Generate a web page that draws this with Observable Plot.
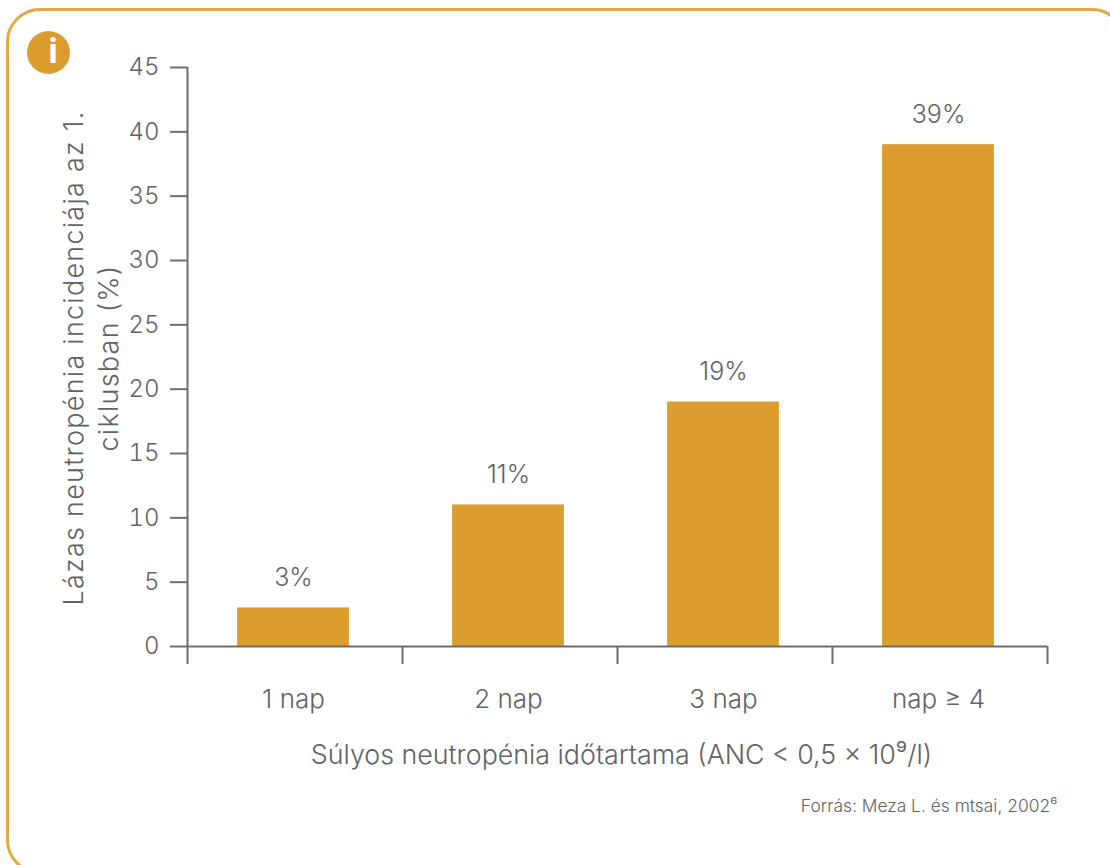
<!DOCTYPE html>
<html lang="hu">
<head>
<meta charset="utf-8">
<title>Lázas neutropénia incidenciája</title>
<script src="https://cdn.jsdelivr.net/npm/d3@7"></script>
<script src="https://cdn.jsdelivr.net/npm/@observablehq/plot@0.6"></script>
<style>
  html, body { margin: 0; padding: 0; background: #fff; overflow: hidden; }
  #card { position: relative; width: 1110px; height: 865px; overflow: hidden; }
  #frame {
    position: absolute; left: 6px; top: 8px; width: 1120px; height: 866px;
    box-sizing: border-box; border: 3px solid #e2a945; border-radius: 34px;
  }
  #chart { position: absolute; left: 0; top: 0; }
  #chart svg { display: block; }
  .wide-title { letter-spacing: 1.25px; }
</style>
</head>
<body>
<div id="card"><div id="frame"></div><div id="chart"></div></div>
<script>
// Incidence of febrile neutropenia in cycle 1 by duration of severe neutropenia
const durations = ["1 nap", "2 nap", "3 nap", "nap ≥ 4"];
const incidence = [3, 11, 19, 39];
const percentLabels = ["3%", "11%", "19%", "39%"];
const yTicks = [0, 5, 10, 15, 20, 25, 30, 35, 40, 45];
const xBoundaries = [0, 1, 2, 3, 4];

const rows = durations.map((label, i) => ({
  label, slot: i, value: incidence[i], text: percentLabels[i]
}));

const gold = "#dc9d2f";
const axisGrey = "#6d6e71";
const textGrey = "#626366";
const font = "Inter, 'Noto Sans', sans-serif";

const chart = Plot.plot({
  width: 1110,
  height: 865,
  marginLeft: 187,
  marginRight: 63,
  marginTop: 67,
  marginBottom: 219,
  style: { background: "transparent", fontFamily: font, overflow: "visible" },
  x: { domain: [0, 4], axis: null },
  y: { domain: [0, 45], axis: null },
  marks: [
    // Bars sit in the middle of each slot between the boundary ticks
    Plot.rectY(rows, { x1: d => d.slot + 0.24, x2: d => d.slot + 0.76, y: "value", fill: gold, dx: -1.5 }),

    // Axes
    Plot.axisY({
      ticks: yTicks, tickSize: 17, tickPadding: 11, stroke: axisGrey, strokeWidth: 2,
      fill: textGrey, fontSize: 24, fontWeight: 300, label: null
    }),
    Plot.axisX({
      ticks: xBoundaries, tickSize: 18, tickFormat: () => "", stroke: axisGrey, strokeWidth: 2, label: null
    }),
    Plot.ruleX([0], { stroke: axisGrey, strokeWidth: 2 }),
    Plot.ruleY([0], { stroke: axisGrey, strokeWidth: 2 }),

    // Value labels above the bars
    Plot.text(rows, {
      x: d => d.slot + 0.5, y: "value", text: "text", dx: -1.5, dy: -30,
      fill: textGrey, fontSize: 25, fontWeight: 300
    }),

    // Category labels below the axis
    Plot.text(rows, {
      x: d => d.slot + 0.5, y: () => 0, text: "label", dx: -1.5, dy: 53,
      fill: textGrey, fontSize: 26, fontWeight: 300
    }),

    // Axis titles
    Plot.text(["Súlyos neutropénia időtartama (ANC < 0,5 × 10⁹/l)"], {
      x: () => 2, y: () => 0, text: d => d, dy: 109, dx: 4,
      fill: textGrey, fontSize: 26.8, fontWeight: 300
    }),
    Plot.text(["Lázas neutropénia incidenciája az 1.\nciklusban (%)"], {
      frameAnchor: "left", text: d => d, rotate: -90, dx: -98, dy: 1, lineHeight: 1.3,
      textAnchor: "middle", fill: textGrey, fontSize: 27, fontWeight: 300, className: "wide-title"
    }),

    // Source note
    Plot.text(["Forrás: Meza L. és mtsai, 2002⁶"], {
      frameAnchor: "bottom-right", text: d => d, textAnchor: "end", dx: 10, dy: 165,
      fill: textGrey, fontSize: 17.4, fontWeight: 300
    }),

    // Info badge in the top-left corner of the card
    Plot.dot([0], {
      frameAnchor: "top-left", r: 21.5, fill: gold, dx: -139, dy: -15
    }),
    Plot.text(["i"], {
      frameAnchor: "top-left", text: d => d, dx: -139, dy: -15,
      fill: "#fff", fontSize: 34, fontWeight: 700, lineAnchor: "middle"
    })
  ]
});

document.getElementById("chart").append(chart);
</script>
</body>
</html>
